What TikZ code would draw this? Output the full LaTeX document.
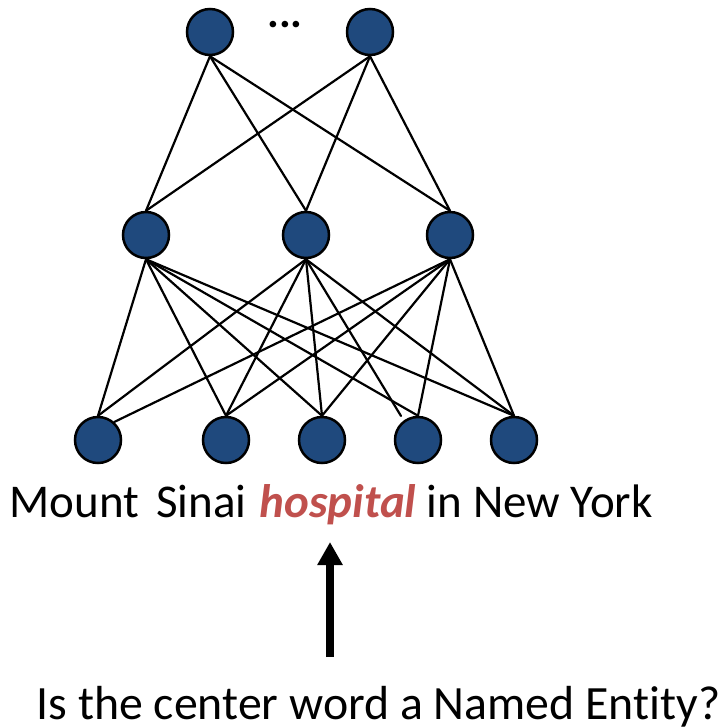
\documentclass[tikz,border=0pt]{standalone}
\usepackage{fontspec}
\setmainfont[Ligatures=NoCommon]{Carlito}
\usetikzlibrary{arrows.meta}
\definecolor{nodeblue}{RGB}{31,73,125}
\definecolor{hred}{RGB}{192,80,77}
\begin{document}
\begin{tikzpicture}[x=1pt,y=-1pt,
  neuron/.style={circle, draw=black, line width=2.5pt, fill=nodeblue, minimum size=46pt, inner sep=0pt},
  conn/.style={line width=2.2pt, line cap=round},
  txt/.style={anchor=base west, inner sep=0pt}]
\useasboundingbox (0,0) rectangle (727,726);
% top layer
\node[neuron] (t1) at (210,32) {};
\node[neuron] (t2) at (370,32) {};
\node[inner sep=0pt, anchor=base, font=\fontsize{44}{50}\selectfont\bfseries] (dots) at (285,27) {...};
% middle layer
\node[neuron] (m1) at (146,235) {};
\node[neuron] (m2) at (306,235) {};
\node[neuron] (m3) at (450,235) {};
% bottom layer
\node[neuron] (b1) at (98,440) {};
\node[neuron] (b2) at (226,440) {};
\node[neuron] (b3) at (322,440) {};
\node[neuron] (b4) at (418,440) {};
\node[neuron] (b5) at (514,440) {};
\coordinate (b4short) at (401,416);
% edges top-middle
\foreach \t in {t1,t2}
  \foreach \m in {m1,m2,m3}
    \draw[conn] (\t.south) -- (\m.north);
% edges middle-bottom
\foreach \b in {b1,b2,b3,b4,b5}
  \draw[conn] (m1.south) -- (\b.north);
\foreach \b in {b1,b2,b3,b5}
  \draw[conn] (m2.south) -- (\b.north);
\draw[conn] (m2.south) -- (b4short);
\draw[conn] (m3.south) -- (b1.48);
\foreach \b in {b2,b3,b4,b5}
  \draw[conn] (m3.south) -- (\b.north);
% texts
\node[txt, font=\fontsize{47}{56}\selectfont] (sent) at (9.6,517)
  {Mount\hspace{17pt}Sinai\hspace{13pt}\textcolor{hred}{\textbf{\textit{hospital}}} in New York};
\coordinate (arrtail) at (330,657);
\coordinate (arrtip) at (330,542);
\draw[line width=8pt, -{Triangle[width=24pt,length=23pt]}] (arrtail) -- (arrtip);
\node[txt, font=\fontsize{47.8}{56}\selectfont] (question) at (36.5,719) {Is the center word a Named Entity?};
\end{tikzpicture}
\end{document}
